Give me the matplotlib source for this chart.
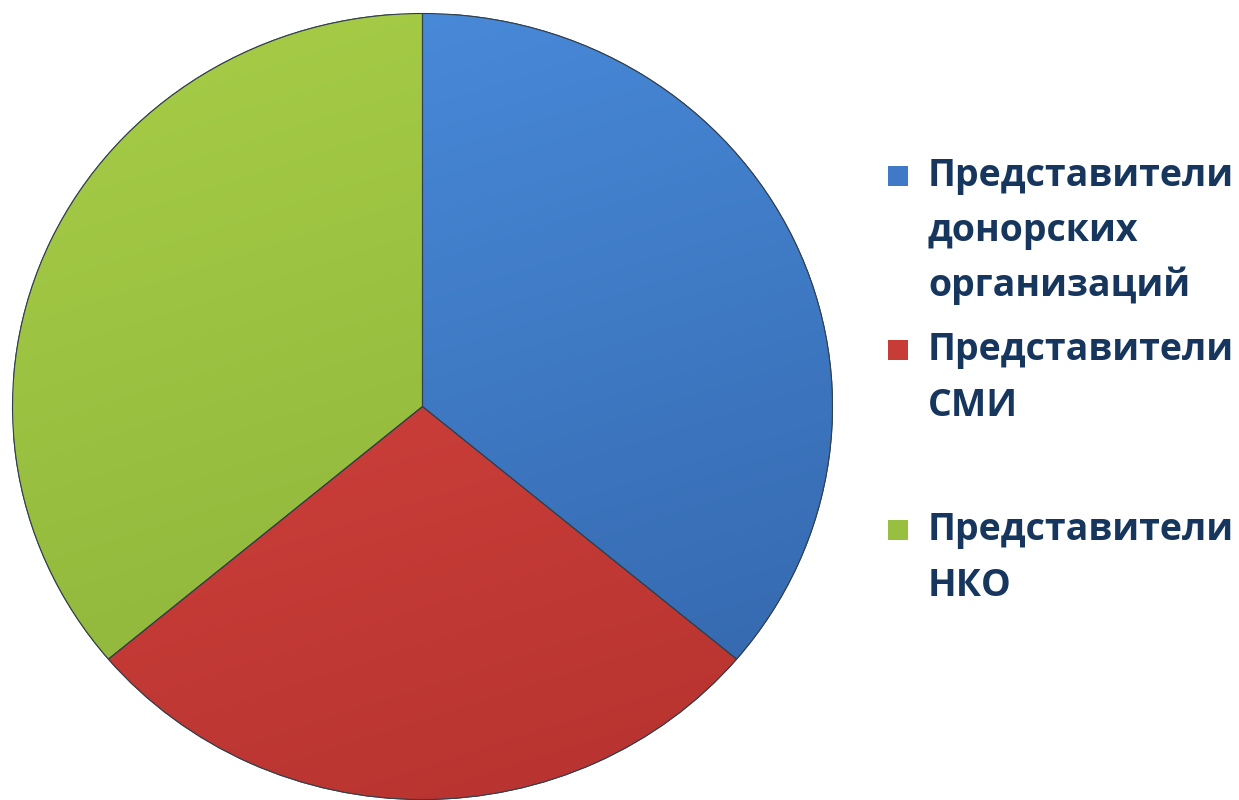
import numpy as np
import matplotlib.pyplot as plt
from matplotlib.colors import to_rgb

# datos del grafico
etiquetas = ['Представители\nдонорских\nорганизаций', 'Представители\nСМИ', 'Представители\nНКО']
valores = [13, 10, 13]
claros = ['#4B8EDF', '#DC4842', '#A7CD47']
oscuros = ['#3264A8', '#B5322E', '#88AF38']
colores = ['#4079C6', '#C83C37', '#98BF3F']

W, H = 1239, 800
fig = plt.figure(figsize=(W/100, H/100), dpi=100)
fig.patch.set_facecolor('white')

# posicion del pastel en pixeles (ligeramente eliptico)
cx, cy, rx, ry = 422.5, 406.5, 410, 393
ax = fig.add_axes([(cx-rx)/W, (H-cy-ry)/H, 2*rx/W, 2*ry/H])

cunas, _ = ax.pie(valores, colors=colores, startangle=90, counterclock=False,
                  radius=1, wedgeprops=dict(edgecolor='#2b3b4a', linewidth=0.8))
ax.set_aspect('auto')
ax.set_xlim(-1, 1)
ax.set_ylim(-1, 1)
ax.axis('off')

# degradado para imitar el sombreado
xs = np.linspace(-1, 1, 300)
ys = np.linspace(-1, 1, 300)
X, Y = np.meshgrid(xs, ys)
t = 0.75*(1 - Y)/2 + 0.25*(X + 1)/2
for w, c1, c2 in zip(cunas, claros, oscuros):
    a = np.array(to_rgb(c1))
    b = np.array(to_rgb(c2))
    img = a[None, None, :]*(1 - t[:, :, None]) + b[None, None, :]*t[:, :, None]
    im = ax.imshow(img, extent=(-1, 1, -1, 1), origin='lower', aspect='auto',
                   interpolation='bilinear', zorder=w.get_zorder() + 0.1)
    im.set_clip_path(w)
    borde = plt.matplotlib.patches.Wedge(w.center, w.r, w.theta1, w.theta2,
                                         facecolor='none', edgecolor='#33404d',
                                         linewidth=0.8, zorder=w.get_zorder() + 0.2)
    ax.add_patch(borde)

# leyenda hecha a mano
texto_x = 928
marca_x = 888
lado = 20
lineas_y = [[176, 231, 286], [350, 406], [530, 586]]
color_texto = '#17365D'
for etq, ys_, col in zip(etiquetas, lineas_y, colores):
    partes = etq.split('\n')
    for p, yy in zip(partes, ys_):
        fig.text(texto_x/W, 1 - yy/H, p, fontsize=27, fontweight='bold',
                 family='Open Sans', color=color_texto, va='center', ha='left')
    y0 = ys_[0] + lado/2
    marca = plt.Rectangle((marca_x/W, 1 - y0/H), lado/W, lado/H, transform=fig.transFigure,
                          facecolor=col, edgecolor='none')
    fig.patches.append(marca)

fig.savefig('out.png', dpi=100, facecolor='white')
